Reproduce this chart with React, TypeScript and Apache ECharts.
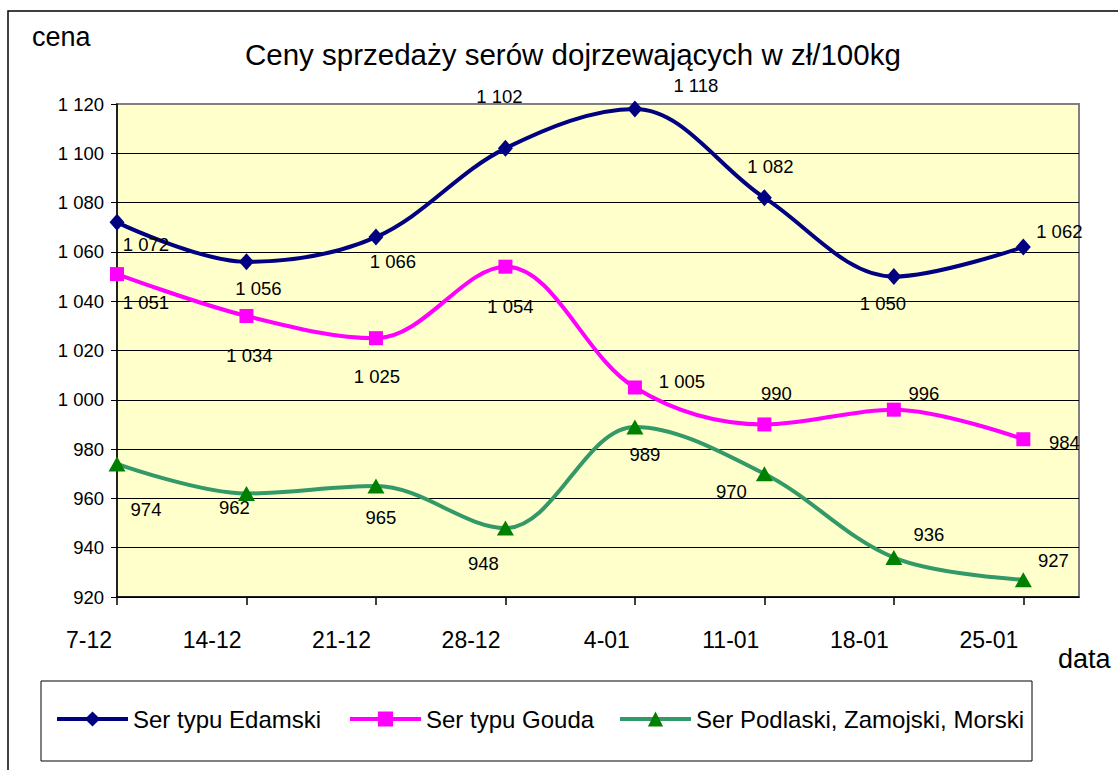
import React, { useEffect, useRef } from "react";
import * as echarts from "echarts";

const categories = ["7-12", "14-12", "21-12", "28-12", "4-01", "11-01", "18-01", "25-01"];
const seriesNames = ["Ser typu Edamski", "Ser typu Gouda", "Ser Podlaski, Zamojski, Morski"];
const edamski = [1072, 1056, 1066, 1102, 1118, 1082, 1050, 1062];
const gouda = [1051, 1034, 1025, 1054, 1005, 990, 996, 984];
const podlaski = [974, 962, 965, 948, 989, 970, 936, 927];
const yMin = 920;
const yMax = 1120;
const yStep = 20;
const title = "Ceny sprzedaży serów dojrzewających w zł/100kg";
const yName = "cena";
const xName = "data";

// layout: label offsets (px) relative to each marker
const edamskiLabelOffsets = [[29, 22], [12, 27], [17, 24], [-6, -52], [61, -23], [6, -31], [-11, 27], [36, -15]];
const goudaLabelOffsets = [[29, 28], [3, 40], [1, 38], [5, 40], [47, -6], [12, -31], [30, -16], [41, 3]];
const podlaskiLabelOffsets = [[29, 46], [-12, 14], [5, 31], [-22, 36], [10, 28], [-33, 18], [35, -23], [30, -19]];

const FONT = "'Liberation Sans', Arial, sans-serif";

function fmt(v: number): string {
  const n = Math.round(v);
  if (n >= 1000) {
    const th = Math.floor(n / 1000);
    const rest = String(n % 1000).padStart(3, "0");
    return th + " " + rest;
  }
  return String(n);
}

export default function App() {
  const ref = useRef<HTMLDivElement>(null);

  useEffect(() => {
    if (!ref.current) return;
    const chart = echarts.init(ref.current, null, { renderer: "svg" });

    const mk = (
      name: string,
      values: number[],
      offsets: number[][],
      color: string,
      markerColor: string,
      symbol: string,
      symbolSize: number[]
    ) => ({
      type: "line",
      name,
      smooth: 0.35,
      symbol,
      symbolSize,
      showAllSymbol: true,
      lineStyle: { color, width: 4 },
      itemStyle: { color: markerColor },
      data: values.map((v, i) => ({
        value: [i, v],
        label: { offset: offsets[i] },
      })),
      label: {
        show: true,
        position: "inside",
        color: "#000",
        fontSize: 18.5,
        fontFamily: FONT,
        textBorderWidth: 0,
        formatter: (p: any) => fmt(p.value[1]),
      },
      emphasis: { disabled: true },
    });

    const tickIdx = categories.map((_, i) => i);
    const legendLefts = [55, 348, 618];

    chart.setOption({
      animation: false,
      title: {
        text: title,
        left: 245,
        top: 39,
        padding: 0,
        textStyle: { fontSize: 29.5, fontWeight: "normal", fontFamily: FONT, color: "#000" },
      },
      legend: seriesNames.map((n, i) => ({
        data: [n],
        left: legendLefts[i],
        top: 707,
        padding: 0,
        itemWidth: 71,
        itemHeight: 19,
        itemGap: 0,
        selectedMode: false,
        lineStyle: { width: 4 },
        textStyle: { fontSize: 24, fontFamily: FONT, color: "#000" },
      })),
      grid: {
        left: 117,
        top: 104,
        width: 962,
        height: 493,
        show: true,
        backgroundColor: "#FFFFCC",
        borderColor: "#808080",
        borderWidth: 2,
      },
      xAxis: {
        type: "value",
        min: 0,
        max: 7.43,
        interval: 1,
        axisLine: { show: true, onZero: false, lineStyle: { color: "#000", width: 1.5 } },
        axisTick: { show: true, length: 8, customValues: tickIdx, lineStyle: { color: "#000", width: 1.5 } },
        axisLabel: {
          customValues: tickIdx,
          formatter: (v: number) => categories[Math.round(v)] ?? "",
          align: "right",
          padding: [0, 5, 0, 0],
          margin: 31,
          fontSize: 23,
          fontFamily: FONT,
          color: "#000",
        },
        splitLine: { show: false },
      },
      yAxis: {
        type: "value",
        min: yMin,
        max: yMax,
        interval: yStep,
        axisLine: { show: true, lineStyle: { color: "#000", width: 1.5 } },
        axisTick: { show: true, length: 6, lineStyle: { color: "#000", width: 1 } },
        axisLabel: {
          margin: 13,
          fontSize: 18.5,
          fontFamily: FONT,
          color: "#000",
          formatter: (v: number) => fmt(v),
        },
        splitLine: { show: true, showMaxLine: false, lineStyle: { color: "#000", width: 1 } },
      },
      graphic: [
        {
          type: "rect",
          shape: { x: 8, y: 11, width: 1300, height: 900 },
          style: { fill: "none", stroke: "#000", lineWidth: 1.5 },
          silent: true,
          z: -10,
        },
        {
          type: "rect",
          shape: { x: 41, y: 681, width: 991, height: 80 },
          style: { fill: "#fff", stroke: "#000", lineWidth: 1 },
          silent: true,
          z: -5,
        },
        {
          type: "text",
          x: 32,
          y: 37,
          style: { text: yName, font: `27px ${FONT}`, fill: "#000", textVerticalAlign: "middle" },
          silent: true,
        },
        {
          type: "text",
          x: 1058,
          y: 659,
          style: { text: xName, font: `27px ${FONT}`, fill: "#000", textVerticalAlign: "middle" },
          silent: true,
        },
      ],
      series: [
        mk(seriesNames[0], edamski, edamskiLabelOffsets, "#000080", "#000080", "diamond", [15, 17]),
        mk(seriesNames[1], gouda, goudaLabelOffsets, "#FF00FF", "#FF00FF", "rect", [14, 14]),
        mk(seriesNames[2], podlaski, podlaskiLabelOffsets, "#339966", "#008000", "triangle", [17, 15]),
      ],
    });

    return () => chart.dispose();
  }, []);

  return (
    <div
      ref={ref}
      style={{ position: "fixed", left: 0, top: 0, width: 1118, height: 770, background: "#fff" }}
    />
  );
}
